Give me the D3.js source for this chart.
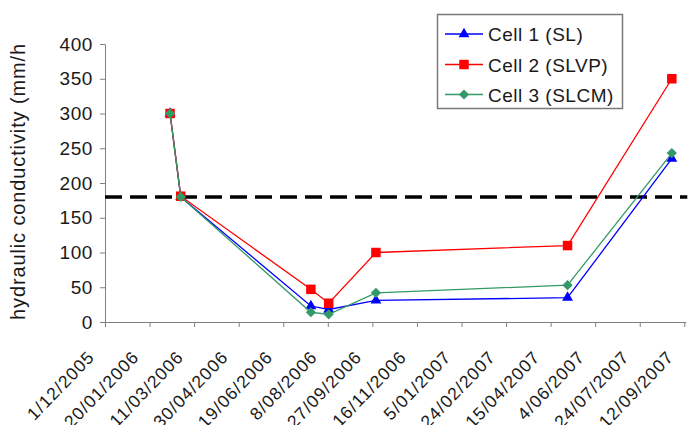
<!DOCTYPE html>
<html><head><meta charset="utf-8">
<script src="https://cdn.jsdelivr.net/npm/d3@7"></script>
<style>
body{margin:0;background:#fff}
svg{display:block}
text{font-family:"Liberation Sans",Arial,Helvetica,sans-serif;fill:#1a1a1a}
</style>
</head><body><svg id="chart" width="693" height="425"></svg>
<script>
// ---- data ----
const sampleDates = ["12/02/2006","24/02/2006","20/07/2006","9/08/2006","1/10/2006","4/05/2007","29/08/2007"];
const cell1 = [300, 180, 23, 18, 31, 35, 235];
const cell2 = [300, 181, 47, 27, 100, 110, 350];
const cell3 = [300, 180, 14, 11, 42, 53, 243];
const seriesNames = ["Cell 1 (SL)", "Cell 2 (SLVP)", "Cell 3 (SLCM)"];
const seriesColors = ["#0000ff", "#ff0000", "#339966"];
const seriesSymbols = ["triangle", "square", "diamond"];
const yTicks = [0, 50, 100, 150, 200, 250, 300, 350, 400];
const xTickLabels = ["1/12/2005","20/01/2006","11/03/2006","30/04/2006","19/06/2006","8/08/2006","27/09/2006","16/11/2006","5/01/2007","24/02/2007","15/04/2007","4/06/2007","24/07/2007","12/09/2007"];
const threshold = 180;
const yTitle = "hydraulic conductivity (mm/hr)";

// ---- layout ----
const parse = d3.utcParse("%d/%m/%Y");
const xTickDates = xTickLabels.map(parse);
const X0 = 105, X1 = 684.3, Y0 = 322, Y1 = 44;
const x = d3.scaleUtc().domain([xTickDates[0], xTickDates[xTickDates.length - 1]]).range([X0, X1]);
const y = d3.scaleLinear().domain([0, 400]).range([Y0, Y1]);

const svg = d3.select("#chart");
const axisColor = "#808080";

// y axis
const gy = svg.append("g").attr("transform", `translate(${X0},0)`)
  .call(d3.axisLeft(y).tickValues(yTicks).tickSize(5).tickSizeOuter(0).tickPadding(7));
gy.select(".domain").attr("stroke", axisColor);
gy.selectAll(".tick line").attr("stroke", axisColor);
gy.selectAll(".tick text").attr("font-size", 19).attr("letter-spacing", 0.6)
  .attr("font-family", '"Liberation Sans",Arial,sans-serif').attr("fill", "#1a1a1a");

// x axis
const gx = svg.append("g").attr("transform", `translate(0,${Y0})`)
  .call(d3.axisBottom(x).tickValues(xTickDates).tickSize(5).tickSizeOuter(0)
    .tickFormat((d, i) => xTickLabels[i]));
gx.select(".domain").attr("stroke", axisColor).attr("d", `M${X0},0.5H${X1 + 2}`);
gx.selectAll(".tick line").attr("stroke", axisColor);
gx.selectAll(".tick text")
  .attr("font-size", 17.5).attr("letter-spacing", 1.1)
  .attr("font-family", '"Liberation Sans",Arial,sans-serif').attr("fill", "#1a1a1a")
  .attr("text-anchor", "end").attr("x", -10).attr("y", 36).attr("dy", 0)
  .attr("transform", "rotate(-46,-10,36)");

// y title (clipped at top like the reference)
svg.append("clipPath").attr("id", "tclip").append("rect")
  .attr("x", 0).attr("y", 44).attr("width", 60).attr("height", 381);
svg.append("g").attr("clip-path", "url(#tclip)")
  .append("text")
  .attr("transform", "translate(25,320) rotate(-90)")
  .attr("font-size", 20).attr("letter-spacing", 0.88)
  .text(yTitle);

// threshold dashed line
svg.append("line")
  .attr("x1", X0).attr("x2", X1 + 3).attr("y1", y(threshold)).attr("y2", y(threshold))
  .attr("stroke", "#000").attr("stroke-width", 3.5).attr("stroke-dasharray", "17,8");

// series
const symbolPath = {
  triangle: d3.symbol(d3.symbolTriangle, 52)(),
  square: d3.symbol(d3.symbolSquare, 90)(),
  diamond: d3.symbol(d3.symbolSquare, 52)()
};
const symbolRot = {triangle: 0, square: 0, diamond: 45};
const seriesValues = [cell1, cell2, cell3];
const dates = sampleDates.map(parse);
const line = d3.line().x(d => x(d[0])).y(d => y(d[1]));

seriesValues.forEach((vals, s) => {
  const pts = dates.map((d, i) => [d, vals[i]]);
  const g = svg.append("g");
  g.append("path").attr("d", line(pts)).attr("fill", "none")
    .attr("stroke", seriesColors[s]).attr("stroke-width", 1.3);
  g.selectAll("path.m").data(pts).join("path").attr("class", "m")
    .attr("d", symbolPath[seriesSymbols[s]])
    .attr("transform", d => `translate(${x(d[0])},${y(d[1])}) rotate(${symbolRot[seriesSymbols[s]]})`)
    .attr("fill", seriesColors[s]);
});

// legend
const lg = svg.append("g");
lg.append("rect").attr("x", 437.5).attr("y", 14.5).attr("width", 185).attr("height", 94)
  .attr("fill", "#fff").attr("stroke", "#7a7a7a").attr("stroke-width", 1.5);
const legendY = [34, 64.5, 94.5];
seriesNames.forEach((name, s) => {
  const ly = legendY[s];
  lg.append("line").attr("x1", 445).attr("x2", 483).attr("y1", ly).attr("y2", ly)
    .attr("stroke", seriesColors[s]).attr("stroke-width", 1.3);
  lg.append("path").attr("d", symbolPath[seriesSymbols[s]])
    .attr("transform", `translate(464,${ly}) rotate(${symbolRot[seriesSymbols[s]]})`)
    .attr("fill", seriesColors[s]);
  lg.append("text").attr("x", 488).attr("y", ly + 7).attr("font-size", 19)
    .attr("letter-spacing", 0.5).text(name);
});
</script>
</body></html>
